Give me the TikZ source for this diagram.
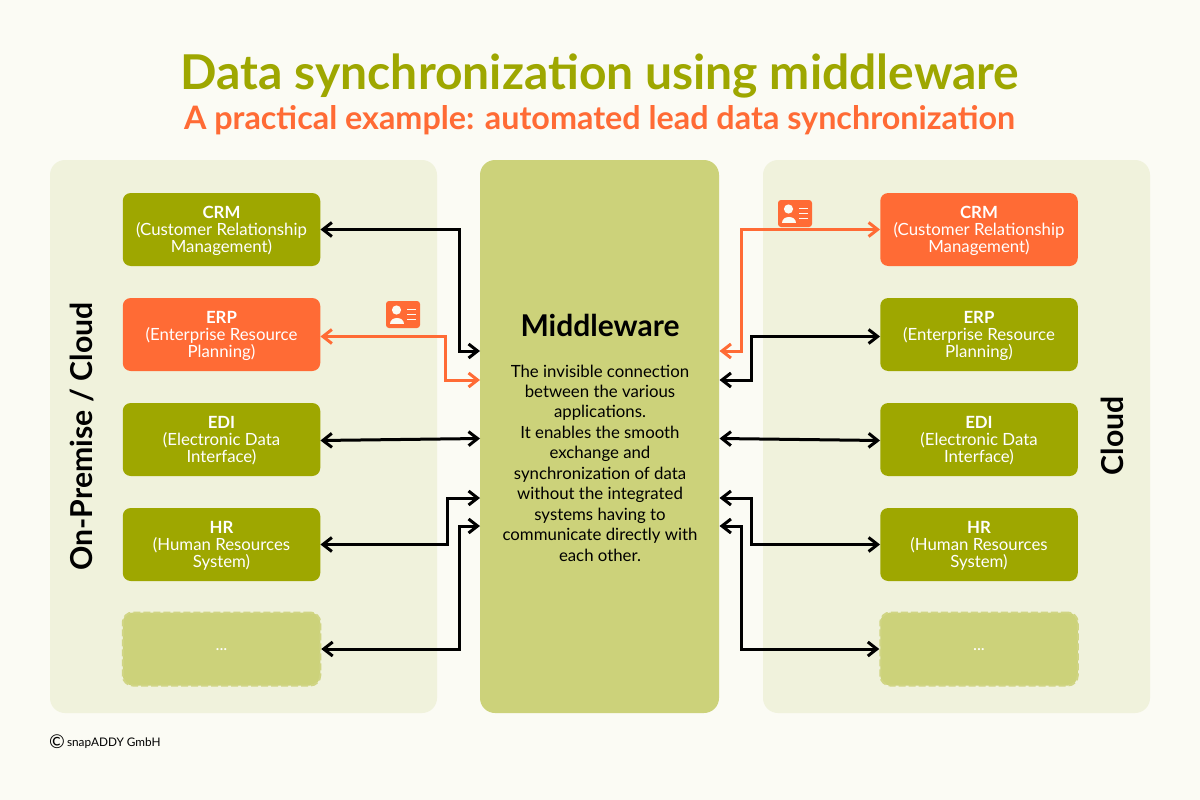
\documentclass[tikz,border=0pt]{standalone}
\usepackage{fontspec}
\setmainfont{Lato}
\usetikzlibrary{arrows.meta}
\definecolor{pagebg}{HTML}{FBFBF4}
\definecolor{panelbg}{HTML}{F0F2DC}
\definecolor{midbg}{HTML}{CCD27A}
\definecolor{olive}{HTML}{9EA700}
\definecolor{tangerine}{HTML}{FF6B35}
\newcommand{\apphead}[1]{\rule{0pt}{14.2pt}\textbf{#1}}

\begin{document}
\begin{tikzpicture}[x=1pt,y=-1pt,
	panel/.style={fill=panelbg,rounded corners=15pt,minimum width=387pt,minimum height=553pt,inner sep=0pt},
	appbox/.style={fill=olive,text=white,rounded corners=8pt,minimum width=197.5pt,minimum height=73pt,inner sep=0pt,align=center,font=\fontsize{16.8}{17}\selectfont},
	hotbox/.style={appbox,fill=tangerine},
	morebox/.style={appbox,fill=midbg,draw=midbg!90!panelbg,line width=2pt,rounded corners=10pt,dash pattern=on 7pt off 3pt},
	sync/.style={<->,>={Straight Barb[length=9pt,width=14pt]},line width=3pt,black},
	lead/.style={sync,tangerine},
	sidelabel/.style={rotate=90,font=\fontsize{30.2}{30}\selectfont\bfseries},
	idcard/.pic={
		\fill[tangerine,rounded corners=3pt] (-17,-13.5) rectangle (17,13.5);
		\fill[pagebg] (-6.5,-4.5) circle (4.6pt);
		\fill[pagebg] (-13.5,9) .. controls (-13.5,1) and (0.5,1) .. (0.5,9) -- cycle;
		\draw[pagebg,line width=1.8pt] (4,-5) -- (13,-5) (4,0) -- (13,0) (4,5) -- (13,5);
	}]

	\useasboundingbox (0,0) rectangle (1200,800);
	\fill[pagebg] (0,0) rectangle (1200,800);

	\node (title) [text=olive,font=\fontsize{48}{48}\selectfont\bfseries] at (600,76) {Data synchronization using middleware};
	\node (subtitle) [text=tangerine,font=\fontsize{32.3}{32}\selectfont\bfseries] at (599.5,120) {A practical example: automated lead data synchronization};

	\node (panelL) [panel] at (243.5,436.5) {};
	\node (panelR) [panel] at (956.5,436.5) {};
	\node (mw) [panel,minimum width=239pt,fill=midbg] at (599.5,436.5) {};

	\node (sideL) [sidelabel] at (82,436.5) {On-Premise / Cloud};
	\node (sideR) [sidelabel] at (1112,436) {Cloud};

	\node (mwhead) [font=\fontsize{30}{30}\selectfont\bfseries] at (600,325) {Middleware};
	\node (mwtext) [align=center,font=\fontsize{16.8}{20.45}\selectfont] at (600,463) {The invisible connection\\between the various\\applications.\\It enables the smooth\\exchange and\\synchronization of data\\without the integrated\\systems having to\\communicate directly with\\each other.};

	\node (crmL) [appbox] at (221.5,229.5) {\apphead{CRM}\\(Customer Relationship\\Management)};
	\node (erpL) [hotbox] at (221.5,334.5) {\apphead{ERP}\\(Enterprise Resource\\Planning)};
	\node (ediL) [appbox] at (221.5,439.5) {\apphead{EDI}\\(Electronic Data\\Interface)};
	\node (hrL) [appbox] at (221.5,544.5) {\apphead{HR}\\(Human Resources\\System)};
	\node (moreL) [morebox] at (221.5,649) {\raisebox{-4pt}{...}};

	\node (crmR) [hotbox] at (979,229.5) {\apphead{CRM}\\(Customer Relationship\\Management)};
	\node (erpR) [appbox] at (979,334.5) {\apphead{ERP}\\(Enterprise Resource\\Planning)};
	\node (ediR) [appbox] at (979,439.5) {\apphead{EDI}\\(Electronic Data\\Interface)};
	\node (hrR) [appbox] at (979,544.5) {\apphead{HR}\\(Human Resources\\System)};
	\node (moreR) [morebox] at (979,649) {\raisebox{-4pt}{...}};

	\coordinate (inL1) at (480,351);
	\coordinate (inL2) at (480,380);
	\coordinate (inL3) at (480,438.5);
	\coordinate (inL4) at (480,498);
	\coordinate (inL5) at (480,526);
	\coordinate (inR1) at (719.5,351);
	\coordinate (inR2) at (719.5,380);
	\coordinate (inR3) at (719.5,438.5);
	\coordinate (inR4) at (719.5,498);
	\coordinate (inR5) at (719.5,526);
	\coordinate (bendL1) at (459,351);
	\coordinate (bendL2) at (445,380);
	\coordinate (bendL4) at (447,498);
	\coordinate (bendL5) at (459,526);
	\coordinate (bendR1) at (741,351);
	\coordinate (bendR2) at (751,380);
	\coordinate (bendR4) at (751,498);
	\coordinate (bendR5) at (741,526);

	\draw [sync] (crmL.east) -| (bendL1) -- (inL1);
	\draw [lead] ([yshift=-2pt]erpL.east) -| (bendL2) -- (inL2);
	\draw [sync] ([yshift=-1pt]ediL.east) -- (inL3);
	\draw [sync] (hrL.east) -| (bendL4) -- (inL4);
	\draw [sync] (moreL.east) -| (bendL5) -- (inL5);

	\draw [lead] (crmR.west) -| (bendR1) -- (inR1);
	\draw [sync] ([yshift=-2pt]erpR.west) -| (bendR2) -- (inR2);
	\draw [sync] ([yshift=-1pt]ediR.west) -- (inR3);
	\draw [sync] (hrR.west) -| (bendR4) -- (inR4);
	\draw [sync] (moreR.west) -| (bendR5) -- (inR5);

	\pic at (403,314.5) {idcard};
	\pic at (795,213.5) {idcard};

	\node (copy) [anchor=west,inner sep=0pt,font=\fontsize{11.8}{12}\selectfont] at (49,742) {\raisebox{-2pt}{\fontsize{19}{19}\selectfont ©}\kern-1pt{} snapADDY GmbH};

\end{tikzpicture}
\end{document}
